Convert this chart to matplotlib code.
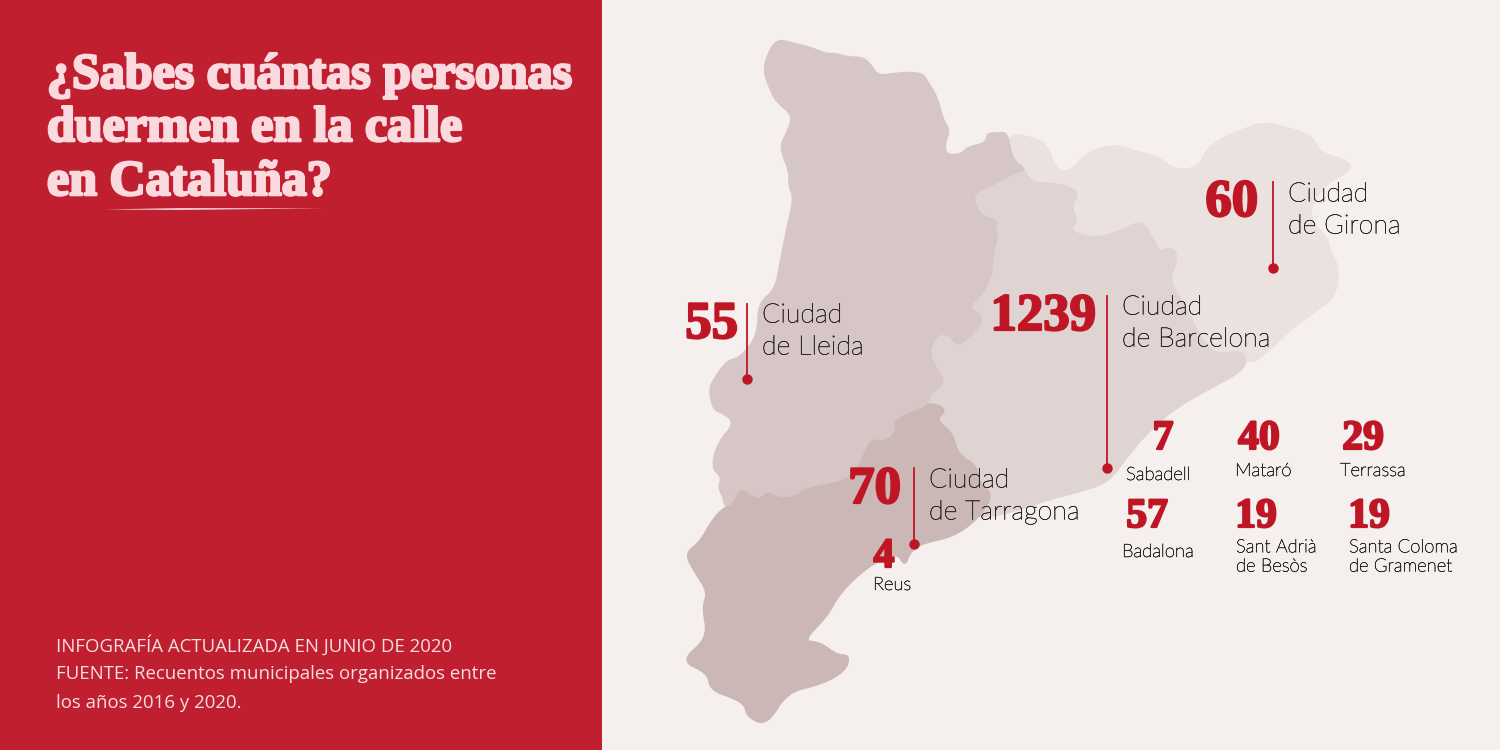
"""Infographic: people sleeping rough in Catalan cities (June 2020 counts)."""

import matplotlib.pyplot as plt
import matplotlib.patheffects as pe
from matplotlib.patches import PathPatch, Rectangle
from matplotlib.path import Path

RED = "#BF1F2F"
NUM_RED = "#BE1624"
BG = "#F5F0EE"
PINK = "#FADADF"
INK = "#2B2425"

# the chart's numbers
big_cities = [["Ciudad", "de Girona"], ["Ciudad", "de Barcelona"], ["Ciudad", "de Lleida"], ["Ciudad", "de Tarragona"]]
big_counts = [60, 1239, 55, 70]
small_cities = ["Sabadell", "Mataró", "Terrassa", "Badalona", "Sant Adrià\nde Besòs", "Santa Coloma\nde Gramenet", "Reus"]
small_counts = [7, 40, 29, 57, 19, 19, 4]

title_lines = ["¿Sabes cuántas personas", "duermen en la calle", "en Cataluña?"]
foot_lines = ["INFOGRAFÍA ACTUALIZADA EN JUNIO DE 2020",
              "FUENTE: Recuentos municipales organizados entre",
              "los años 2016 y 2020."]

# province outlines in pixel coordinates
girona = [(1007, 133), (1027, 136), (1047, 143), (1056, 170), (1070, 172), (1088, 151), (1117, 144), (1137, 152),
          (1157, 156), (1177, 171), (1200, 166), (1205, 151), (1220, 139), (1243, 129), (1263, 122), (1287, 127),
          (1313, 136), (1320, 153), (1350, 161), (1351, 171), (1327, 182), (1310, 207), (1313, 223), (1327, 237),
          (1330, 250), (1340, 270), (1335, 298), (1313, 313), (1290, 330), (1270, 350), (1247, 368), (1150, 330),
          (1000, 200)]
barcelona = [(1012, 160), (1025, 172), (1033, 183), (1057, 183), (1080, 191), (1071, 207), (1078, 220), (1069, 231),
             (1093, 238), (1117, 233), (1140, 220), (1150, 232), (1160, 253), (1170, 246), (1179, 256), (1169, 280),
             (1180, 297), (1193, 323), (1213, 356), (1243, 349), (1248, 368), (1213, 387), (1177, 407), (1150, 430),
             (1127, 457), (1110, 481), (1087, 490), (1047, 500), (1020, 510), (977, 520), (925, 500), (900, 400),
             (930, 300), (960, 200)]
tarragona = [(725, 507), (733, 503), (740, 485), (758, 500), (767, 490), (780, 497), (797, 495), (803, 488),
             (827, 483), (843, 480), (857, 468), (870, 436), (883, 442), (896, 430), (892, 420), (913, 410),
             (928, 403), (942, 406), (945, 412), (936, 420), (953, 433), (958, 455), (977, 465), (979, 483),
             (994, 495), (977, 520), (953, 537), (923, 543), (910, 552), (905, 567), (897, 552), (867, 567),
             (840, 593), (827, 617), (803, 641), (820, 642), (837, 655), (850, 655), (846, 671), (820, 685),
             (787, 692), (767, 726), (747, 717), (745, 705), (733, 698), (710, 690), (708, 673), (680, 661),
             (708, 638), (702, 607), (708, 592), (693, 570), (685, 553), (700, 542), (713, 518)]
lleida = [(768, 53), (777, 39), (793, 43), (813, 48), (827, 54), (835, 53), (847, 57), (862, 57), (870, 63),
          (878, 76), (893, 73), (922, 72), (928, 82), (938, 98), (943, 120), (950, 130), (945, 143), (946, 155),
          (962, 154), (967, 147), (986, 143), (987, 133), (997, 133), (1008, 132), (1012, 160), (1028, 170), (1013, 173),
          (993, 185), (975, 193), (974, 203), (983, 217), (998, 220), (995, 230), (998, 237), (993, 253), (992, 277),
          (980, 297), (968, 307), (984, 317), (977, 330), (963, 342), (957, 345), (947, 333), (936, 336), (929, 353),
          (937, 370), (946, 383), (930, 393), (928, 405), (913, 410), (892, 420), (896, 430), (883, 442), (870, 436),
          (857, 468), (843, 480), (827, 483), (803, 488), (797, 495), (780, 497), (767, 490), (758, 500), (740, 485),
          (733, 503), (725, 507), (723, 497), (718, 487), (722, 477), (711, 468), (718, 442), (735, 423), (723, 413),
          (713, 410), (709, 390), (713, 380), (727, 360), (740, 358), (758, 335), (758, 303), (775, 290), (780, 263),
          (787, 227), (794, 197), (788, 185), (790, 173), (779, 147), (787, 133), (793, 115), (777, 103), (770, 90),
          (763, 70)]

# where things sit on the canvas
big_num_right = [1258, 1096, 738, 901]
big_num_y = [203, 317, 325, 490]
big_stem_x = [1273, 1107, 747, 914]
big_stem_top = [182, 296, 304, 468]
big_stem_end = [268, 468, 379, 544]
big_label_x = [1288, 1122, 762, 929]
big_label_y = [[194, 226], [307, 339], [315, 347], [480, 512]]
small_num_x = [1163, 1259, 1363, 1147, 1256, 1369, 884]
small_num_y = [439, 439, 439, 517, 517, 517, 557]
small_label_x = [1126, 1235, 1340, 1122, 1236, 1349, 873]
small_label_y = [475, 471, 471, 552, 557, 557, 585]


def rounded_outline(points):
    # quadratic segments with each traced point as control, so corners read as a coastline
    verts = [((points[-1][0] + points[0][0]) / 2, (points[-1][1] + points[0][1]) / 2)]
    codes = [Path.MOVETO]
    for i, point in enumerate(points):
        following = points[(i + 1) % len(points)]
        verts += [point, ((point[0] + following[0]) / 2, (point[1] + following[1]) / 2)]
        codes += [Path.CURVE3, Path.CURVE3]
    return Path(verts, codes)


plt.rcParams["font.family"] = ["Lato", "DejaVu Sans"]

fig = plt.figure(figsize=(15, 7.5), dpi=100, facecolor=BG)
ax = fig.add_axes([0, 0, 1, 1])
ax.set_xlim(0, 1500)
ax.set_ylim(750, 0)
ax.axis("off")

ax.add_patch(Rectangle((0, 0), 602, 750, facecolor=RED, edgecolor="none"))

# stacked from back to front so the shared borders come from the upper shape
for outline, colour in [(girona, "#EBE2E0"), (barcelona, "#E0D4D3"), (tarragona, "#CBB8B6"), (lleida, "#D6C7C6")]:
    ax.add_patch(PathPatch(rounded_outline(outline), facecolor=colour, edgecolor=colour, linewidth=1))

heavy = [pe.withStroke(linewidth=1.9, foreground=PINK)]
for line, y in zip(title_lines, [76, 129, 183]):
    ax.text(47, y, line, family="Liberation Serif", weight="bold", fontsize=36, color=PINK,
            va="center", ha="left", path_effects=heavy)
ax.fill([104, 180, 325, 180], [209.5, 208, 208.3, 210], color="#F6C9CF", linewidth=0)

for line, y in zip(foot_lines, [645, 674, 703]):
    ax.text(56, y, line, family="Open Sans", fontsize=13.4, color="#F9DDE0", va="center", ha="left")

thick = [pe.withStroke(linewidth=1.6, foreground=NUM_RED)]
ink_up = [pe.withStroke(linewidth=0.35, foreground=INK)]
for i, count in enumerate(big_counts):
    ax.text(big_num_right[i], big_num_y[i], str(count), family="Liberation Serif", weight="bold", fontsize=38,
            color=NUM_RED, va="center", ha="right", path_effects=thick)
    ax.plot([big_stem_x[i]] * 2, [big_stem_top[i], big_stem_end[i]], color=NUM_RED, linewidth=1.3)
    ax.plot(big_stem_x[i], big_stem_end[i], "o", color=NUM_RED, markersize=6.5)
    for line, y in zip(big_cities[i], big_label_y[i]):
        ax.text(big_label_x[i], y, line, fontsize=19.3, weight="light", color=INK, va="center", ha="left",
                path_effects=ink_up)

for i, count in enumerate(small_counts):
    ax.text(small_num_x[i], small_num_y[i], str(count), family="Liberation Serif", weight="bold", fontsize=30,
            color=NUM_RED, va="center", ha="center", path_effects=thick)
    ax.text(small_label_x[i], small_label_y[i], small_cities[i], fontsize=13.3, weight="light", color=INK,
            va="center", ha="left", linespacing=1.25, path_effects=ink_up)

fig.savefig("out.png", dpi=100, facecolor=BG)
